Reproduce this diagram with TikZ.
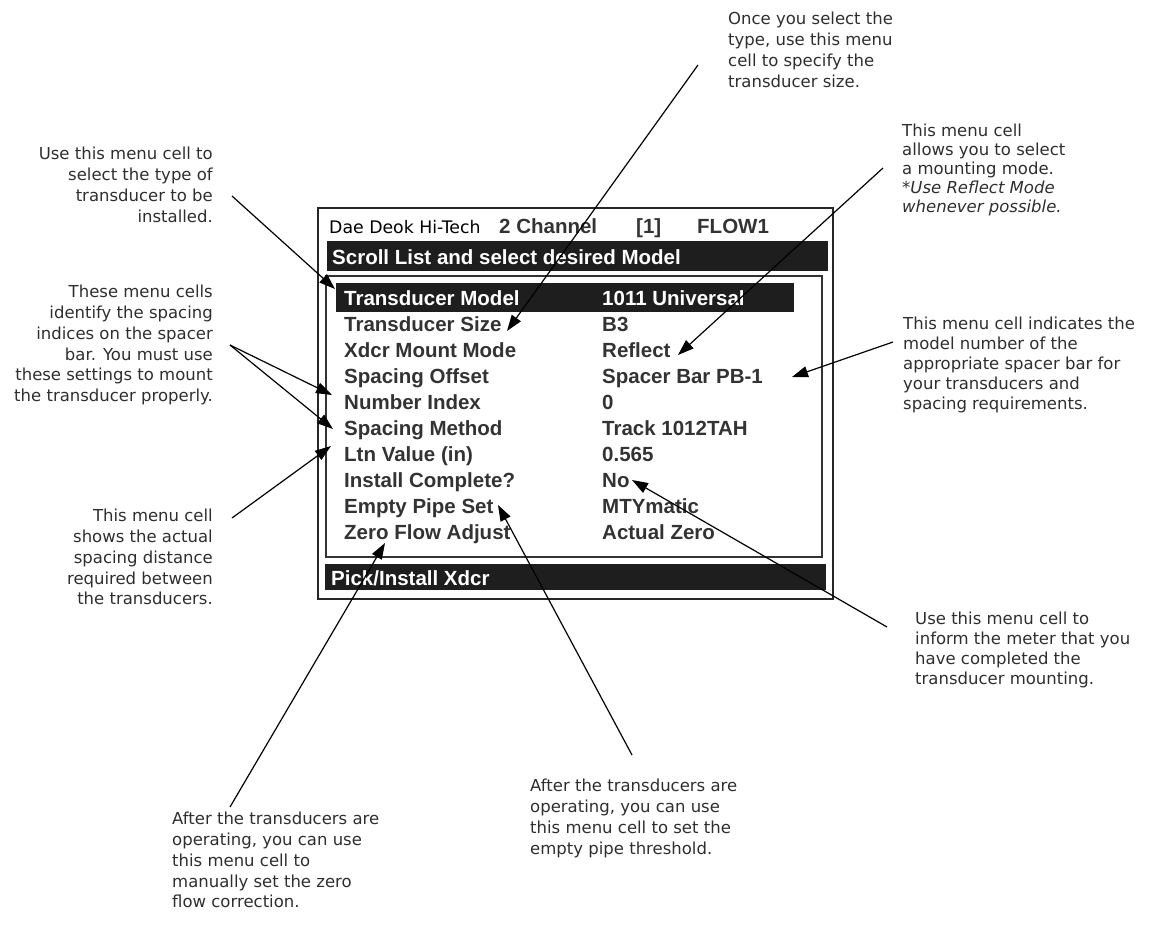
\documentclass[tikz,border=0pt]{standalone}
\usepackage{fontspec}
\setmainfont{DejaVu Sans}
\newfontfamily\lcdfont{Liberation Sans}
\usetikzlibrary{arrows.meta}
\definecolor{ink}{HTML}{2E2E2E}
\definecolor{scr}{HTML}{333333}
\definecolor{barfill}{HTML}{1E1E1E}
\begin{document}
\begin{tikzpicture}[x=1pt,y=-1pt,
  note/.style={inner sep=0pt, text=ink, font=\fontsize{16.5}{20.8}\selectfont},
  noteR/.style={note, align=right, anchor=north east},
  noteL/.style={note, align=left, anchor=north west},
  row/.style={inner sep=0pt, anchor=base west, text=scr, font=\lcdfont\bfseries\fontsize{20.5}{24}\selectfont},
  inv/.style={row, text=white},
  pointer/.style={draw=black, line width=1.2pt, -{Triangle[length=16pt,width=11pt]}},
]
\useasboundingbox (0,0) rectangle (1151,932);

% ---- meter screen ----
\draw[line width=2.4pt, draw=black!85] (318,208) rectangle (833,599);
\fill[barfill] (327,241) rectangle (828,271);
\draw[line width=1.3pt, draw=black!80] (326,276) rectangle (822,557);
\fill[barfill] (336,283) rectangle (794,312);
\fill[barfill] (325,564) rectangle (826,590);

% header line
\node[anchor=base west, inner sep=0pt, font=\fontsize{17.3}{20}\selectfont] (brand) at (329,233) {Dae Deok Hi-Tech};
\node[row] (chan) at (499,233) {2 Channel};
\node[row] (chno) at (636,233) {[1]};
\node[row] (flow) at (697,233) {FLOW1};
\node[inv] (scroll) at (332,264) {Scroll List and select desired Model};

% menu rows
\node[inv] (k1) at (344,305.0) {Transducer Model};   \node[inv] (v1) at (602,305.0) {1011 Universal};
\node[row] (k2) at (344,331.1) {Transducer Size};    \node[row] (v2) at (602,331.1) {B3};
\node[row] (k3) at (344,357.2) {Xdcr Mount Mode};    \node[row] (v3) at (602,357.2) {Reflect};
\node[row] (k4) at (344,383.3) {Spacing Offset};     \node[row] (v4) at (602,383.3) {Spacer Bar PB-1};
\node[row] (k5) at (344,409.4) {Number Index};       \node[row] (v5) at (602,409.4) {0};
\node[row] (k6) at (344,435.5) {Spacing Method};     \node[row] (v6) at (602,435.5) {Track 1012TAH};
\node[row] (k7) at (344,461.6) {Ltn Value (in)};     \node[row] (v7) at (602,461.6) {0.565};
\node[row] (k8) at (344,487.7) {Install Complete?};  \node[row] (v8) at (602,487.7) {No};
\node[row] (k9) at (344,513.8) {Empty Pipe Set};     \node[row] (v9) at (602,513.8) {MTYmatic};
\node[row] (k10) at (344,539.9) {Zero Flow Adjust};  \node[row] (v10) at (602,539.9) {Actual Zero};

\node[inv] (pick) at (331,585) {Pick/Install Xdcr};

% ---- notes ----
\node[noteR] (nModel) at (213,147) {Use this menu cell to\\select the type of\\transducer to be\\installed.};
\node[noteR] (nIdx) at (213,285) {These menu cells\\identify the spacing\\indices on the spacer\\bar. You must use\\these settings to mount\\the transducer properly.};
\node[noteR] (nLtn) at (213,509) {This menu cell\\shows the actual\\spacing distance\\required between\\the transducers.};
\node[noteL] (nSize) at (728,12) {Once you select the\\type, use this menu\\cell to specify the\\transducer size.};
\node[noteL, font=\fontsize{16.5}{19}\selectfont] (nMode) at (902,124) {This menu cell\\allows you to select\\a mounting mode.\\\textit{*Use Reflect Mode}\\\textit{whenever possible.}};
\node[noteL, font=\fontsize{16.5}{20}\selectfont] (nBar) at (903,317) {This menu cell indicates the\\model number of the\\appropriate spacer bar for\\your transducers and\\spacing requirements.};
\node[noteL, font=\fontsize{16.5}{20}\selectfont] (nDone) at (915,612) {Use this menu cell to\\inform the meter that you\\have completed the\\transducer mounting.};
\node[noteL] (nPipe) at (530,779) {After the transducers are\\operating, you can use\\this menu cell to set the\\empty pipe threshold.};
\node[noteL] (nZero) at (172,812) {After the transducers are\\operating, you can use\\this menu cell to\\manually set the zero\\flow correction.};

% ---- pointer ends ----
\coordinate (pModel) at (232,196);  \coordinate (tModel) at (335,289);
\coordinate (pIdx)   at (230,345);  \coordinate (tIdx)   at (332,395);  \coordinate (tMeth) at (333,429);
\coordinate (pLtn)   at (232,518);  \coordinate (tLtn)   at (331,446);
\coordinate (pSize)  at (698,65);   \coordinate (tSize)  at (507,331);
\coordinate (pMode)  at (883,168);  \coordinate (tMode)  at (678,355);
\coordinate (pBar)   at (893,342);  \coordinate (tBar)   at (792,377);
\coordinate (pDone)  at (887,627);  \coordinate (tDone)  at (632,480);
\coordinate (pPipe)  at (632,755);  \coordinate (tPipe)  at (498,505);
\coordinate (pZero)  at (230,807);  \coordinate (tZero)  at (385,543);

\draw[pointer] (pModel) -- (tModel);
\draw[pointer] (pIdx) -- (tIdx);
\draw[pointer] (pIdx) -- (tMeth);
\draw[pointer] (pLtn) -- (tLtn);
\draw[pointer] (pSize) -- (tSize);
\draw[pointer] (pMode) -- (tMode);
\draw[pointer] (pBar) -- (tBar);
\draw[pointer] (pDone) -- (tDone);
\draw[pointer] (pPipe) -- (tPipe);
\draw[pointer] (pZero) -- (tZero);
\end{tikzpicture}
\end{document}
